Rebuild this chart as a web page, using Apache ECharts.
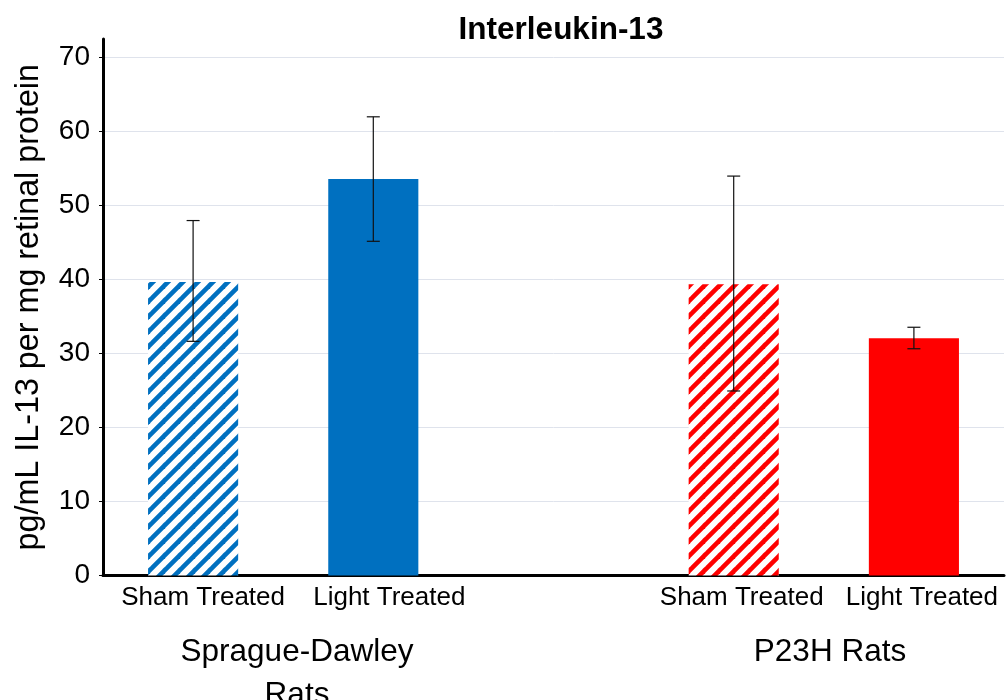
<!DOCTYPE html>
<html>
<head>
<meta charset="utf-8">
<script src="https://cdn.jsdelivr.net/npm/echarts@6/dist/echarts.min.js"></script>
<style>
html,body{margin:0;padding:0;background:#fff;}
#chart{width:1008px;height:700px;}
</style>
</head>
<body>
<div id="chart"></div>
<script>
const categories = ['Sham Treated', 'Light Treated', '', 'Sham Treated', 'Light Treated'];
const meanValues = [39.6, 53.5, null, 39.3, 32.0];
const errorLow = [31.6, 45.1, null, 24.9, 30.6];
const errorHigh = [47.9, 61.9, null, 53.9, 33.5];
const groupLabels = ['Sprague-Dawley\nRats', 'P23H Rats'];
const yTicks = [0, 10, 20, 30, 40, 50, 60, 70];

// layout only: horizontal nudge of each category label (px)
const labelNudge = [10, 16, 0, 8, 8];

const FONT = '"Liberation Sans", Arial, sans-serif';
const BLUE = '#0070C0';
const RED = '#FF0000';

function hatch(color) {
  const s = 15;
  const c = document.createElement('canvas');
  c.width = s; c.height = s;
  const g = c.getContext('2d');
  g.fillStyle = '#fff';
  g.fillRect(0, 0, s, s);
  g.strokeStyle = color;
  g.lineWidth = 4.6;
  g.lineCap = 'square';
  for (let k = -1; k <= 1; k++) {
    g.beginPath();
    g.moveTo(k * s, s);
    g.lineTo(k * s + s, 0);
    g.stroke();
  }
  return { image: c, repeat: 'repeat' };
}

const barColors = [hatch(BLUE), BLUE, 'transparent', hatch(RED), RED];
const barData = meanValues.map((v, i) => ({ value: v, itemStyle: { color: barColors[i] } }));
const errData = meanValues.map((v, i) => [i, errorLow[i], errorHigh[i]]).filter(d => d[1] != null);
const axisData = categories.map((c, i) => ({ value: c, textStyle: { padding: [0, 0, 0, 2 * labelNudge[i]] } }));

const chart = echarts.init(document.getElementById('chart'), null, { renderer: 'canvas' });
chart.setOption({
  animation: false,
  backgroundColor: '#fff',
  title: {
    text: 'Interleukin-13',
    left: 556, top: 9,
    textAlign: 'center',
    textStyle: { fontFamily: FONT, fontWeight: 'bold', fontSize: 31.5, color: '#000' }
  },
  grid: { left: 103, right: 4, top: 39, bottom: 124.5, containLabel: false },
  xAxis: {
    type: 'category',
    data: axisData,
    axisLine: { lineStyle: { color: '#000', width: 3 } },
    axisTick: { show: false },
    axisLabel: { interval: 0, margin: 9, fontFamily: FONT, fontSize: 26, color: '#000' }
  },
  yAxis: {
    type: 'value',
    min: 0, max: 72.4, interval: 10,
    name: 'pg/mL IL-13 per mg retinal protein',
    nameLocation: 'middle',
    nameGap: 58,
    nameTextStyle: { fontFamily: FONT, fontSize: 32.3, color: '#000' },
    axisLine: { show: true, lineStyle: { color: '#000', width: 3 } },
    axisTick: { show: true, length: 4, lineStyle: { color: '#000', width: 1 } },
    axisLabel: {
      margin: 13, fontFamily: FONT, fontSize: 28, color: '#000',
      showMaxLabel: false,
      formatter: v => (yTicks.indexOf(v) >= 0 ? String(v) : '')
    },
    splitLine: { show: true, showMaxLine: false, lineStyle: { color: '#dfe3ec', width: 1 } }
  },
  graphic: [
    { type: 'text', x: 297, y: 631, style: { text: groupLabels[0], font: '31.5px ' + FONT, fill: '#000', align: 'center', verticalAlign: 'top', lineHeight: 43 } },
    { type: 'text', x: 830, y: 631, style: { text: groupLabels[1], font: '31.5px ' + FONT, fill: '#000', align: 'center', verticalAlign: 'top', lineHeight: 43 } }
  ],
  series: [
    {
      type: 'bar',
      data: barData,
      barWidth: '50%',
      itemStyle: { borderWidth: 0 }
    },
    {
      type: 'custom',
      data: errData,
      z: 10,
      renderItem: function (params, api) {
        const x = api.value(0);
        const lo = api.coord([x, api.value(1)]);
        const hi = api.coord([x, api.value(2)]);
        const hw = 6.5;
        const st = { stroke: '#111', lineWidth: 1.2 };
        return {
          type: 'group',
          children: [
            { type: 'line', shape: { x1: lo[0], y1: lo[1], x2: hi[0], y2: hi[1] }, style: st },
            { type: 'line', shape: { x1: lo[0] - hw, y1: lo[1], x2: lo[0] + hw, y2: lo[1] }, style: st },
            { type: 'line', shape: { x1: hi[0] - hw, y1: hi[1], x2: hi[0] + hw, y2: hi[1] }, style: st }
          ]
        };
      }
    }
  ]
});
</script>
</body>
</html>
